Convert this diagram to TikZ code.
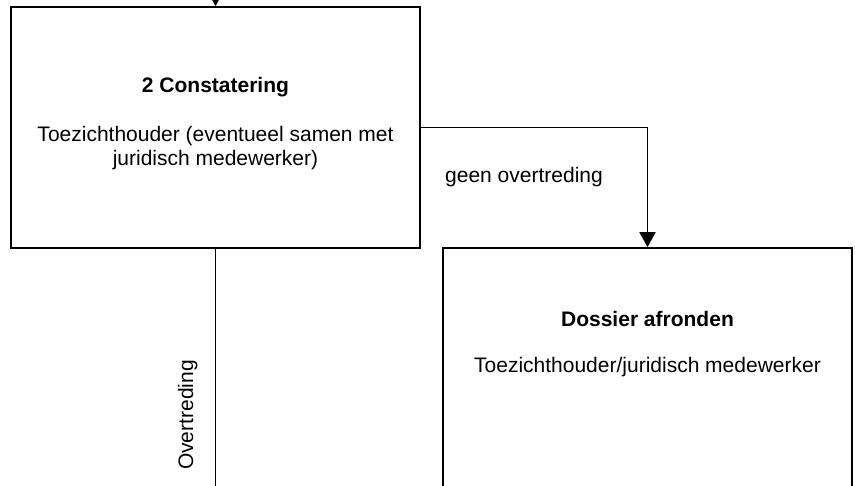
\documentclass[tikz,border=0pt]{standalone}
\usepackage{fontspec}
\setmainfont{Liberation Sans}
\usetikzlibrary{arrows.meta}
\begin{document}
\begin{tikzpicture}[x=1pt,y=-1pt,
  boxstyle/.style={draw=black,line width=1.6pt,inner sep=0pt,fill=none},
  conn/.style={draw=black,line width=1.6pt},
  arr/.style={conn,-{Triangle[width=16pt,length=15pt]}},
  txt/.style={inner sep=0pt,font=\fontsize{21}{24}\selectfont,anchor=base},
  btxt/.style={txt,font=\fontsize{21}{24}\selectfont\bfseries}]
\useasboundingbox (0,0) rectangle (855,486);
\clip (0,0) rectangle (855,486);
\fill[white] (0,0) rectangle (855,486);
\node[boxstyle,minimum width=409pt,minimum height=241pt] (box1) at (215.5,127.5) {};
\node[boxstyle,minimum width=409pt,minimum height=250pt] (box2) at (647.5,373) {};
\node[btxt] (t1) at (215.5,93) {2 Constatering};
\node[txt] (t2) at (215.5,142) {Toezichthouder (eventueel samen met};
\node[txt] (t3) at (215.5,166) {juridisch medewerker)};
\node[btxt] (t4) at (647.5,327) {Dossier afronden};
\node[txt] (t5) at (647.5,373) {Toezichthouder/juridisch medewerker};
\node[txt,anchor=base west] (lab1) at (445,183) {geen overtreding};
\node[txt,rotate=90] (lab2) at (193,415) {Overtreding};
\coordinate (topin) at (215.5,-20);
\coordinate (botout) at (215.5,500);
\draw[arr] (topin) -- (box1.north);
\draw[arr] (box1.east) -| (box2.north);
\draw[conn] (box1.south) -- (botout);
\end{tikzpicture}
\end{document}
